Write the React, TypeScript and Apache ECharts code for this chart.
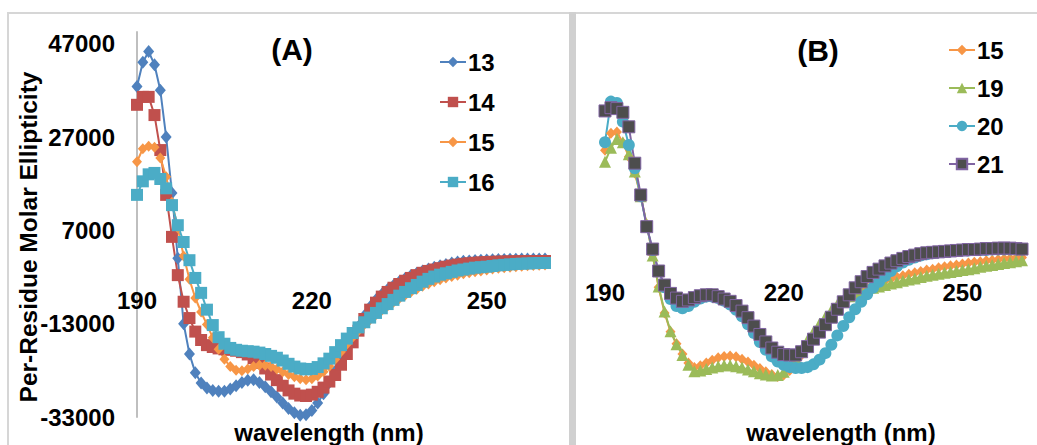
import React, { useEffect, useRef } from "react";
import * as echarts from "echarts";

// wavelength (nm), 1 nm steps
const wavelengths = [
  190, 191, 192, 193, 194, 195, 196, 197, 198, 199,
  200, 201, 202, 203, 204, 205, 206, 207, 208, 209,
  210, 211, 212, 213, 214, 215, 216, 217, 218, 219,
  220, 221, 222, 223, 224, 225, 226, 227, 228, 229,
  230, 231, 232, 233, 234, 235, 236, 237, 238, 239,
  240, 241, 242, 243, 244, 245, 246, 247, 248, 249,
  250, 251, 252, 253, 254, 255, 256, 257, 258, 259, 260,
];

// Panel (A)
const a13 = [
  37800, 43000, 45300, 42500, 37000, 27000, 15000, 1000, -13000, -19500,
  -23500, -25700, -26800, -27300, -27500, -27500, -27000, -26300, -25600, -25100,
  -25000, -25600, -26500, -27600, -28700, -30000, -31200, -32100, -32600, -32500,
  -31600, -30000, -28000, -25600, -23200, -20800, -18500, -16000, -13600, -11300,
  -9400, -7900, -6700, -5700, -4800, -4000, -3300, -2700, -2200, -1700,
  -1300, -900, -600, -300, 0, 200, 350, 450, 530, 600,
  650, 700, 740, 770, 800, 820, 840, 850, 860, 870, 880,
];
const a14 = [
  33900, 35600, 35600, 31700, 24200, 14600, 5600, -2600, -8300, -11800,
  -14700, -16500, -17600, -18000, -18300, -18500, -18600, -18800, -19100, -19600,
  -20400, -21400, -22600, -23900, -25100, -26300, -27300, -28000, -28400, -28500,
  -28200, -27600, -26700, -25400, -24000, -21800, -19500, -17000, -14500, -12000,
  -10000, -8500, -7200, -6200, -5300, -4500, -3800, -3200, -2600, -2100,
  -1700, -1400, -1100, -800, -550, -350, -180, -50, 50, 130,
  200, 250, 290, 320, 350, 370, 390, 400, 410, 420, 430,
];
const a15 = [
  21700, 24500, 25000, 24800, 22500, 18500, 13000, 7500, 1500, -3500,
  -7500, -10500, -13200, -16000, -18500, -20600, -22200, -23000, -23100, -22700,
  -22200, -21900, -21900, -22200, -22700, -23300, -23900, -24400, -24800, -25000,
  -24800, -24200, -23300, -22100, -20600, -19000, -17400, -15900, -14500, -13200,
  -12100, -11100, -10100, -9200, -8400, -7600, -6900, -6200, -5600, -5000,
  -4500, -4000, -3600, -3200, -2900, -2600, -2300, -2100, -1900, -1700,
  -1500, -1300, -1150, -1000, -900, -800, -700, -600, -550, -500, -450,
];
const a16 = [
  14600, 17500, 19000, 19300, 18000, 16000, 12400, 8100, 4500, 600,
  -3200, -6400, -10000, -13300, -15900, -17300, -18200, -18600, -18800, -18900,
  -19000, -19200, -19500, -19900, -20300, -20900, -21600, -22200, -22600, -22800,
  -22700, -22300, -21500, -20500, -19100, -17600, -16200, -15000, -13800, -12700,
  -11700, -10700, -9700, -8800, -7900, -7000, -6200, -5400, -4700, -4000,
  -3400, -2900, -2500, -2200, -1900, -1600, -1400, -1200, -1000, -900,
  -800, -650, -500, -400, -300, -200, -150, -100, -50, 0, 0,
];

// Panel (B)
const b15 = [
  22900, 26500, 26800, 24500, 21500, 18000, 13000, 7000, 500, -6500,
  -12000, -16000, -18600, -20800, -22700, -23700, -23300, -22700, -22100, -21600,
  -21300, -21200, -21400, -21900, -22500, -23200, -23900, -24600, -25200, -25600,
  -25300, -24300, -22800, -21000, -19100, -17200, -15400, -13700, -12200, -10900,
  -9800, -8800, -7900, -7100, -6500, -6000, -5500, -5100, -4700, -4300,
  -4000, -3700, -3400, -3100, -2800, -2600, -2300, -2100, -1900, -1700,
  -1500, -1300, -1100, -1000, -800, -700, -550, -400, -300, -200, -100,
];
const b19 = [
  20400, 23400, 25300, 24600, 22000, 18300, 13000, 7000, 300, -6300,
  -11700, -15900, -18700, -21000, -23100, -24500, -24300, -24000, -23700, -23400,
  -23200, -23200, -23400, -23700, -24100, -24500, -24900, -25200, -25400, -25300,
  -24600, -23300, -21600, -19700, -17800, -16000, -14300, -12800, -11400, -10200,
  -9200, -8400, -7800, -7300, -6900, -6600, -6300, -6000, -5700, -5400,
  -5100, -4800, -4600, -4300, -4000, -3800, -3600, -3400, -3200, -3000,
  -2800, -2600, -2400, -2100, -1900, -1700, -1500, -1300, -1100, -900, -700,
];
const b20 = [
  24600, 33300, 33000, 29000, 24000, 19000, 13000, 6500, 1500, -3000,
  -6500, -9000, -10500, -11000, -10500, -9600, -8900, -8500, -8500, -8800,
  -9400, -10200, -11300, -12700, -14400, -16300, -18200, -19900, -21300, -22400,
  -23100, -23600, -23800, -23800, -23600, -23000, -22000, -20600, -18800, -16800,
  -14800, -12900, -11200, -9600, -8000, -6600, -5300, -4100, -3000, -2000,
  -1200, -600, -100, 300, 600, 800, 1000, 1100, 1200, 1300,
  1400, 1400, 1500, 1500, 1500, 1600, 1600, 1600, 1600, 1600, 1600,
];
const b21 = [
  31300, 32000, 31800, 31000, 27900, 20100, 13300, 6500, 1700, -3000,
  -6000, -7800, -8800, -9500, -9200, -8700, -8300, -8100, -8100, -8500,
  -9000, -9500, -10400, -11600, -13000, -14800, -16600, -18200, -19500, -20400,
  -20900, -21000, -21000, -20300, -19200, -17600, -16100, -14500, -12900, -11200,
  -9600, -8100, -6600, -5300, -4200, -3300, -2600, -1900, -1300, -800,
  -300, 100, 400, 700, 900, 1000, 1100, 1200, 1300, 1400,
  1500, 1600, 1600, 1700, 1800, 1800, 1900, 1900, 1900, 1800, 1700,
];

const xTickLabels = ["190", "220", "250"];
const yTickLabels = ["-33000", "-13000", "7000", "27000", "47000"];
const legendA = ["13", "14", "15", "16"];
const legendB = ["15", "19", "20", "21"];

const FONT = "'Liberation Sans', Arial, sans-serif";
const BLUE = "#4F81BD";
const RED = "#C0504D";
const ORANGE = "#F79646";
const CYAN = "#4BACC6";
const GREEN = "#9BBB59";
const PURPLE = "#8064A2";
const DARK = "#4D4D4D";

const pairs = (vals: number[]) => wavelengths.map((w, i) => [w, vals[i]]);

function lineSeries(
  name: string,
  vals: number[],
  idx: number,
  color: string,
  symbol: string,
  size: number | number[],
  extra: any = {}
) {
  return {
    name,
    type: "line",
    xAxisIndex: idx,
    yAxisIndex: idx,
    data: pairs(vals),
    symbol,
    symbolSize: size,
    showSymbol: true,
    lineStyle: { color: extra.lineColor || color, width: 2 },
    itemStyle: {
      color,
      borderColor: extra.borderColor || color,
      borderWidth: extra.borderWidth || 0,
    },
    emphasis: { disabled: true },
    z: 2,
  };
}

const labelStyle = {
  fontFamily: FONT,
  fontWeight: "bold",
  fontSize: 24,
  color: "#000",
};

// grid geometry (pixels): plot frames for the two panels
const GRID_A = { left: 137, top: 32, width: 408, height: 385 };
const GRID_B = { left: 605, top: 26, width: 417, height: 385 };
const Y_MIN = -33000;
const Y_MAX = 49500;

export default function App() {
  const ref = useRef<HTMLDivElement>(null);

  useEffect(() => {
    if (!ref.current) return;
    const chart = echarts.init(ref.current, undefined, { renderer: "svg" });
    const yTickSet = yTickLabels.map(Number);
    const xTickSet = xTickLabels.map(Number);
    // distance from the bottom of the plot up to the y = 0 line
    const zeroOffset = (g: { height: number }) => -(g.height * (0 - Y_MIN)) / (Y_MAX - Y_MIN);
    const option: any = {
      animation: false,
      backgroundColor: "#ffffff",
      grid: [GRID_A, GRID_B],
      xAxis: [GRID_A, GRID_B].map((g, i) => ({
        type: "value",
        gridIndex: i,
        min: 190,
        max: 260,
        interval: 30,
        position: "bottom",
        offset: zeroOffset(g),
        axisLine: { show: false, onZero: false },
        axisTick: { show: false },
        splitLine: { show: false },
        axisLabel: {
          ...labelStyle,
          margin: i === 0 ? 25 : 23,
          showMaxLabel: false,
          formatter: (v: number) => (xTickSet.includes(v) ? String(v) : ""),
        },
      })),
      yAxis: [
        {
          type: "value",
          gridIndex: 0,
          min: Y_MIN,
          max: Y_MAX,
          interval: 20000,
          axisLine: { show: true, onZero: false, lineStyle: { color: "#BFBFBF", width: 2 } },
          axisTick: { show: false },
          splitLine: { show: false },
          axisLabel: {
            ...labelStyle,
            margin: 22,
            showMaxLabel: false,
            formatter: (v: number) => (yTickSet.includes(v) ? String(v) : ""),
          },
        },
        {
          type: "value",
          gridIndex: 1,
          min: Y_MIN,
          max: Y_MAX,
          interval: 20000,
          axisLine: { show: false, onZero: false },
          axisTick: { show: false },
          splitLine: { show: false },
          axisLabel: { show: false },
        },
      ],
      legend: [
        {
          data: legendA,
          orient: "vertical",
          left: 434,
          top: 45,
          itemGap: 16,
          itemWidth: 26,
          itemHeight: 13,
          selectedMode: false,
          textStyle: { ...labelStyle, lineHeight: 24, padding: [0, 0, 0, -3] },
        },
        {
          data: legendB,
          orient: "vertical",
          left: 943,
          top: 33,
          itemGap: 14,
          itemWidth: 26,
          itemHeight: 13,
          selectedMode: false,
          textStyle: { ...labelStyle, lineHeight: 24, padding: [0, 0, 0, -3] },
        },
      ],
      series: [
        lineSeries("13", a13, 0, BLUE, "diamond", [11, 13]),
        lineSeries("14", a14, 0, RED, "rect", 12),
        lineSeries("15", a15, 0, ORANGE, "diamond", [10, 11]),
        lineSeries("16", a16, 0, CYAN, "rect", 12),
        lineSeries("15", b15, 1, ORANGE, "diamond", [10, 11]),
        lineSeries("19", b19, 1, GREEN, "triangle", 12),
        lineSeries("20", b20, 1, CYAN, "circle", 12),
        lineSeries("21", b21, 1, DARK, "rect", 12, {
          lineColor: PURPLE,
          borderColor: PURPLE,
          borderWidth: 1,
        }),
      ],
      graphic: [
        { type: "rect", shape: { x: 7, y: 12, width: 1030, height: 2 }, style: { fill: "#D6D6D6" }, z: 10 },
        { type: "rect", shape: { x: 7, y: 12, width: 2, height: 433 }, style: { fill: "#D6D6D6" }, z: 10 },
        { type: "rect", shape: { x: 569, y: 12, width: 7, height: 433 }, style: { fill: "#D0D0D0" }, z: 10 },
        {
          type: "text",
          x: 292,
          y: 49,
          style: { text: "(A)", font: `bold 30px ${FONT}`, fill: "#000", textAlign: "center", textVerticalAlign: "middle" },
          z: 10,
        },
        {
          type: "text",
          x: 818,
          y: 50,
          style: { text: "(B)", font: `bold 30px ${FONT}`, fill: "#000", textAlign: "center", textVerticalAlign: "middle" },
          z: 10,
        },
        {
          type: "text",
          x: 28,
          y: 237,
          rotation: Math.PI / 2,
          style: {
            text: "Per-Residue Molar Ellipticity",
            font: `bold 24.5px ${FONT}`,
            fill: "#000",
            textAlign: "center",
            textVerticalAlign: "middle",
          },
          z: 10,
        },
        {
          type: "text",
          x: 329,
          y: 432,
          style: { text: "wavelength (nm)", font: `bold 24px ${FONT}`, fill: "#000", textAlign: "center", textVerticalAlign: "middle" },
          z: 10,
        },
        {
          type: "text",
          x: 841,
          y: 432,
          style: { text: "wavelength (nm)", font: `bold 24px ${FONT}`, fill: "#000", textAlign: "center", textVerticalAlign: "middle" },
          z: 10,
        },
      ],
    };
    chart.setOption(option);
    return () => chart.dispose();
  }, []);

  return (
    <div
      ref={ref}
      style={{ position: "fixed", left: 0, top: 0, width: 1037, height: 445, background: "#fff" }}
    />
  );
}
